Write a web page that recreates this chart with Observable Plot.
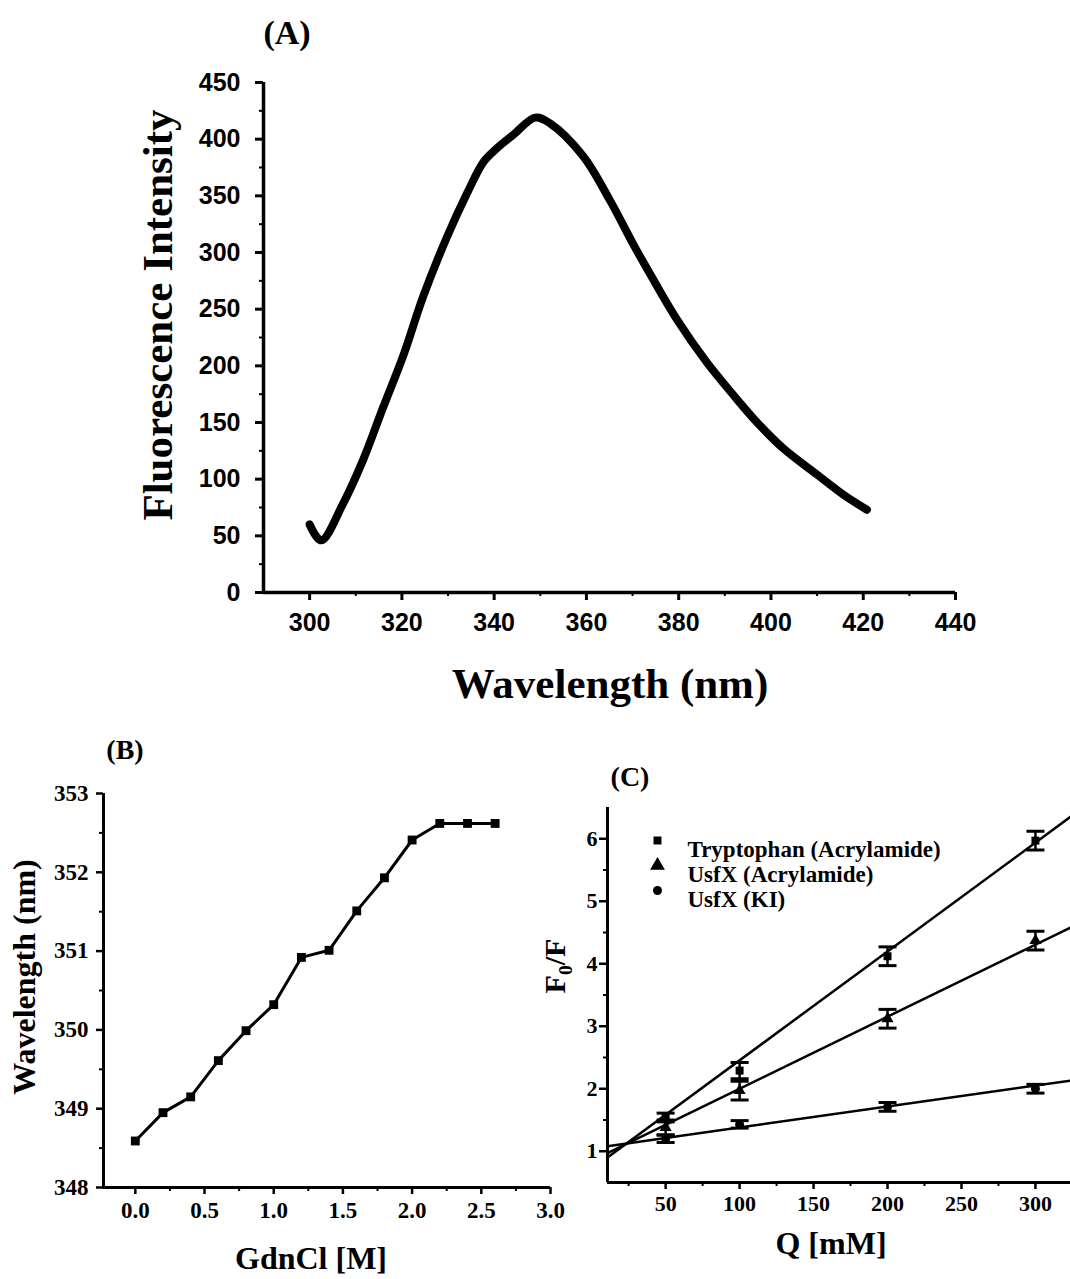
<!DOCTYPE html>
<html><head><meta charset="utf-8">
<script src="https://cdn.jsdelivr.net/npm/d3@7"></script>
<script src="https://cdn.jsdelivr.net/npm/@observablehq/plot@0.6"></script>
<style>
body{margin:0;background:#fff;}
#wrap{position:relative;width:1070px;height:1279px;overflow:hidden;background:#fff;}
#wrap svg{position:absolute;}
.lbl{position:absolute;font-family:"Liberation Serif","Times New Roman",serif;font-weight:bold;color:#000;white-space:nowrap;transform:translate(-50%,-50%);line-height:1;}
.rot{transform:translate(-50%,-50%) rotate(-90deg);}
</style></head><body>
<div id="wrap"></div>
<script>
// ---------- Panel A: emission spectrum ----------
const specWavelength = [300, 302.5, 307.2, 311.6, 315.9, 320.3, 324.6, 329.7, 334.1, 337.7, 340.6, 344.2, 348.9, 352.1, 359.3, 365.1, 370.2, 373.8, 379.6, 386.1, 391.9, 397.0, 402.7, 410.0, 415.8, 420.8];
const specIntensity  = [60, 46, 78, 117, 163, 209, 261, 313, 352, 380, 392, 404, 419, 414, 385, 346, 307, 281, 241, 203, 174, 150, 127, 104, 86, 73];
const aXTicks = [300, 320, 340, 360, 380, 400, 420, 440];
const aXMinor = [310, 330, 350, 370, 390, 410, 430];
const aYTicks = [0, 50, 100, 150, 200, 250, 300, 350, 400, 450];
const aYMinor = [25, 75, 125, 175, 225, 275, 325, 375, 425];

// ---------- Panel B: GdnCl denaturation ----------
const gdnCl = [0, 0.2, 0.4, 0.6, 0.8, 1.0, 1.2, 1.4, 1.6, 1.8, 2.0, 2.2, 2.4, 2.6];
const emissionMax = [348.59, 348.95, 349.15, 349.61, 349.99, 350.32, 350.92, 351.01, 351.51, 351.93, 352.41, 352.62, 352.62, 352.62];
const bXTicks = [0, 0.5, 1.0, 1.5, 2.0, 2.5, 3.0];
const bXMinor = [0.25, 0.75, 1.25, 1.75, 2.25, 2.75];
const bYTicks = [348, 349, 350, 351, 352, 353];
const bYMinor = [348.5, 349.5, 350.5, 351.5, 352.5];

// ---------- Panel C: Stern-Volmer quenching ----------
const quencher = [50, 100, 200, 300];
const trpAcr = [1.54, 2.29, 4.12, 5.97];
const trpAcrErr = [0.07, 0.13, 0.15, 0.15];
const usfxAcr = [1.38, 1.97, 3.12, 4.37];
const usfxAcrErr = [0.12, 0.15, 0.15, 0.15];
const usfxKI = [1.20, 1.43, 1.71, 2.00];
const usfxKIErr = [0.06, 0.06, 0.07, 0.07];
const fitQ = [10.7, 323.7];
const fitTrp = [0.90, 6.35];
const fitAcr = [0.97, 4.58];
const fitKI = [1.08, 2.13];
const seriesNames = ["Tryptophan (Acrylamide)", "UsfX (Acrylamide)", "UsfX (KI)"];
const seriesSymbols = ["square", "triangle", "circle"];
const cXTicks = [50, 100, 150, 200, 250, 300];
const cXMinor = [25, 75, 125, 175, 225, 275];
const cYTicks = [1, 2, 3, 4, 5, 6];
const cYMinor = [1.5, 2.5, 3.5, 4.5, 5.5];

const serif = '"Liberation Serif", "Times New Roman", serif';
const sans = '"Liberation Sans", Arial, sans-serif';
const wrap = document.getElementById("wrap");

function place(svg, left, top) { svg.style.left = left + "px"; svg.style.top = top + "px"; wrap.appendChild(svg); }
function label(html, x, y, size, rot) {
  const d = document.createElement("div");
  d.className = "lbl" + (rot ? " rot" : "");
  d.style.left = x + "px"; d.style.top = y + "px"; d.style.fontSize = size + "px";
  d.innerHTML = html; wrap.appendChild(d);
}

// ----- A -----
const spectrum = specWavelength.map((w, i) => ({w, v: specIntensity[i]}));
const A = Plot.plot({
  width: 1070, height: 660,
  marginLeft: 263, marginRight: 115, marginTop: 82, marginBottom: 68,
  x: {domain: [290, 440]}, y: {domain: [0, 450]},
  style: {background: "transparent", overflow: "visible", color: "black"},
  marks: [
    Plot.axisY({ticks: aYTicks, tickSize: 8, tickPadding: 15, strokeWidth: 3, fontSize: 25, fontWeight: "bold", fontFamily: sans, tickFormat: d3.format("d"), label: null}),
    Plot.axisY({ticks: aYMinor, tickSize: 4, strokeWidth: 2, text: null, label: null}),
    Plot.axisX({ticks: aXTicks, tickSize: 8, tickPadding: 13, strokeWidth: 3, fontSize: 25, fontWeight: "bold", fontFamily: sans, tickFormat: d3.format("d"), label: null}),
    Plot.axisX({ticks: aXMinor, tickSize: 4, strokeWidth: 2, text: null, label: null}),
    Plot.ruleX([290], {y1: 0, y2: 450, strokeWidth: 3.5}),
    Plot.ruleY([0], {x1: 290, x2: 440, strokeWidth: 3.5}),
    Plot.line(spectrum, {x: "w", y: "v", strokeWidth: 8, curve: "catmull-rom", strokeLinecap: "round", strokeLinejoin: "round"})
  ]
});
place(A, 0, 0);

// ----- B -----
const denat = gdnCl.map((g, i) => ({g, w: emissionMax[i]}));
const B = Plot.plot({
  width: 560, height: 579,
  marginLeft: 103, marginRight: 10, marginTop: 93, marginBottom: 92,
  x: {domain: [-0.23, 3.0]}, y: {domain: [348, 353]},
  style: {background: "transparent", overflow: "visible", color: "black"},
  marks: [
    Plot.axisY({ticks: bYTicks, tickSize: 7, tickPadding: 8, strokeWidth: 2.5, fontSize: 23, fontWeight: "bold", fontFamily: serif, tickFormat: d3.format("d"), label: null}),
    Plot.axisY({ticks: bYMinor, tickSize: 4, strokeWidth: 2, text: null, label: null}),
    Plot.axisX({ticks: bXTicks, tickSize: 7, tickPadding: 7, strokeWidth: 2.5, fontSize: 23, fontWeight: "bold", fontFamily: serif, tickFormat: d3.format(".1f"), label: null}),
    Plot.axisX({ticks: bXMinor, tickSize: 4, strokeWidth: 2, text: null, label: null}),
    Plot.ruleX([-0.23], {y1: 348, y2: 353, strokeWidth: 3}),
    Plot.ruleY([348], {x1: -0.23, x2: 3.0, strokeWidth: 3}),
    Plot.line(denat, {x: "g", y: "w", strokeWidth: 3}),
    Plot.dot(denat, {x: "g", y: "w", symbol: "square", r: 5, fill: "black"})
  ]
});
place(B, 0, 700);

// ----- C -----
const capSymbol = {draw(ctx, size) { const r = Math.sqrt(size / Math.PI); ctx.moveTo(-r, 0); ctx.lineTo(r, 0); }};
function rows(vals, errs, s) { return quencher.map((q, i) => ({q, v: vals[i], e: errs[i], s})); }
const pts = [...rows(trpAcr, trpAcrErr, 0), ...rows(usfxAcr, usfxAcrErr, 1), ...rows(usfxKI, usfxKIErr, 2)];
const fits = [fitTrp, fitAcr, fitKI].flatMap((f, s) => fitQ.map((q, i) => ({q, v: f[i], s})));
const legendMarks = seriesNames.flatMap((name, i) => [
  Plot.dot([name], {frameAnchor: "top-left", dx: 50, dy: 33 + i * 25, symbol: seriesSymbols[i], r: i === 1 ? 5.5 : 4.5, fill: "black"}),
  Plot.text([name], {frameAnchor: "top-left", dx: 80, dy: 33 + i * 25, text: d => d, textAnchor: "start", fontSize: 23, fontWeight: "bold", fontFamily: serif, fill: "black"})
]);
const C = Plot.plot({
  width: 550, height: 579,
  marginLeft: 87, marginRight: 0, marginTop: 107, marginBottom: 97,
  x: {domain: [10.7, 323.7]}, y: {domain: [0.5, 6.5]},
  style: {background: "transparent", overflow: "visible", color: "black"},
  marks: [
    Plot.axisY({ticks: cYTicks, tickSize: 8, tickPadding: 2, strokeWidth: 2.5, fontSize: 22, fontWeight: "bold", fontFamily: serif, tickFormat: d3.format("d"), label: null}),
    Plot.axisY({ticks: cYMinor, tickSize: 4, strokeWidth: 2, text: null, label: null}),
    Plot.axisX({ticks: cXTicks, tickSize: 7, tickPadding: 6, strokeWidth: 2.5, fontSize: 22, fontWeight: "bold", fontFamily: serif, tickFormat: d3.format("d"), label: null}),
    Plot.axisX({ticks: cXMinor, tickSize: 4, strokeWidth: 2, text: null, label: null}),
    Plot.ruleX([10.7], {y1: 0.5, y2: 6.5, strokeWidth: 3}),
    Plot.ruleY([0.5], {x1: 10.7, x2: 323.7, strokeWidth: 3}),
    Plot.line(fits, {x: "q", y: "v", z: "s", strokeWidth: 2.5}),
    Plot.ruleX(pts, {x: "q", y1: d => d.v - d.e, y2: d => d.v + d.e, strokeWidth: 2.5}),
    Plot.dot(pts, {x: "q", y: d => d.v + d.e, symbol: capSymbol, r: 9, stroke: "black", fill: "none", strokeWidth: 3}),
    Plot.dot(pts, {x: "q", y: d => d.v - d.e, symbol: capSymbol, r: 9, stroke: "black", fill: "none", strokeWidth: 3}),
    Plot.dot(pts, {x: "q", y: "v", symbol: d => seriesSymbols[d.s], r: 4.5, fill: "black"}),
    ...legendMarks
  ]
});
place(C, 520, 700);

// ----- text labels -----
label("(A)", 287, 33, 34);
label("Fluorescence Intensity", 157, 315, 43, true);
label("Wavelength (nm)", 610, 683, 43);
label("(B)", 125, 750, 28);
label("Wavelength (nm)", 24, 977, 32, true);
label("GdnCl [M]", 311, 1258, 32);
label("(C)", 630, 777, 28);
label("F<sub style='font-size:0.65em'>0</sub>/F", 558, 966, 30, true);
label("Q [mM]", 831, 1243, 32);
</script>
</body></html>
